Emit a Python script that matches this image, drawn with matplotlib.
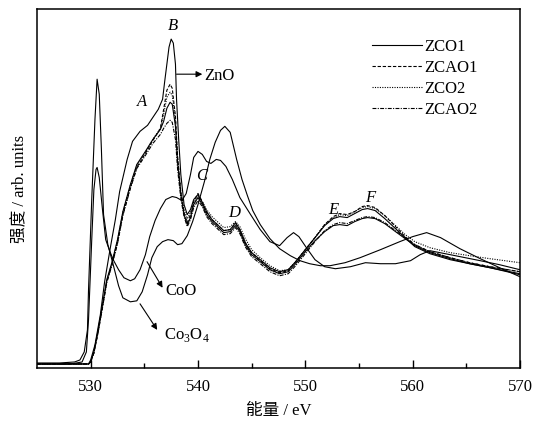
import matplotlib
matplotlib.use("Agg")
import matplotlib.pyplot as plt

plt.rcParams['font.family'] = ['Liberation Serif', 'Noto Sans CJK SC']
plt.rcParams['mathtext.fontset'] = 'custom'
plt.rcParams['mathtext.rm'] = 'Liberation Serif'

# energy grid shared by ZnO-type curves (eV)
e_samp = [525.0, 529.8, 530.0, 530.3, 530.7, 531.1, 531.5, 532.0, 532.5, 533.0,
          533.7, 534.3, 535.1, 535.8, 536.5, 536.8, 537.1, 537.4, 537.6, 537.9,
          538.1, 538.4, 538.7, 539.0, 539.3, 539.6, 540.0, 540.4, 540.8, 541.3,
          541.9, 542.4, 543.0, 543.5, 543.9, 544.4, 545.0, 545.8, 546.7, 547.6,
          548.4, 549.1, 550.0, 550.9, 551.8, 552.6, 553.2, 553.9, 554.6, 555.3,
          555.8, 556.5, 557.4, 558.4, 559.3, 560.2, 561.6, 563.5, 565.3, 567.2, 570.0]

zco1 = [0.01, 0.01, 0.03, 0.13, 0.35, 0.60, 0.85, 1.03, 1.25, 1.53,
        1.80, 2.00, 2.13, 2.25, 2.35, 2.43, 2.56, 2.62, 2.60, 2.38,
        2.02, 1.70, 1.50, 1.40, 1.47, 1.60, 1.67, 1.60, 1.50, 1.43,
        1.37, 1.32, 1.33, 1.39, 1.33, 1.20, 1.10, 1.03, 0.95, 0.91,
        0.93, 1.01, 1.13, 1.24, 1.33, 1.39, 1.40, 1.39, 1.43, 1.46,
        1.47, 1.46, 1.41, 1.33, 1.26, 1.19, 1.12, 1.06, 1.01, 0.97, 0.91]
zcao1 = [0.01, 0.01, 0.03, 0.12, 0.33, 0.58, 0.83, 1.01, 1.22, 1.50,
         1.77, 1.97, 2.11, 2.24, 2.36, 2.55, 2.74, 2.80, 2.76, 2.48,
         2.08, 1.72, 1.52, 1.42, 1.50, 1.63, 1.71, 1.63, 1.52, 1.45,
         1.39, 1.34, 1.35, 1.41, 1.35, 1.22, 1.12, 1.04, 0.96, 0.92,
         0.94, 1.03, 1.15, 1.27, 1.40, 1.48, 1.51, 1.50, 1.53, 1.58,
         1.59, 1.57, 1.49, 1.38, 1.28, 1.20, 1.13, 1.07, 1.02, 0.98, 0.93]
zco2 = [0.01, 0.01, 0.03, 0.12, 0.34, 0.59, 0.84, 1.02, 1.24, 1.52,
        1.79, 1.99, 2.12, 2.25, 2.36, 2.50, 2.67, 2.72, 2.69, 2.44,
        2.06, 1.73, 1.55, 1.46, 1.52, 1.62, 1.68, 1.63, 1.55, 1.48,
        1.42, 1.37, 1.38, 1.43, 1.38, 1.26, 1.15, 1.07, 0.99, 0.94,
        0.95, 1.03, 1.15, 1.27, 1.40, 1.47, 1.50, 1.49, 1.53, 1.57,
        1.58, 1.56, 1.49, 1.39, 1.30, 1.23, 1.17, 1.12, 1.09, 1.06, 1.02]
zcao2 = [0.01, 0.01, 0.03, 0.12, 0.33, 0.57, 0.82, 1.00, 1.21, 1.49,
         1.76, 1.96, 2.09, 2.21, 2.30, 2.36, 2.41, 2.44, 2.42, 2.25,
         1.95, 1.66, 1.48, 1.38, 1.45, 1.57, 1.64, 1.58, 1.48, 1.41,
         1.35, 1.30, 1.31, 1.37, 1.31, 1.18, 1.08, 1.01, 0.93, 0.89,
         0.91, 0.99, 1.11, 1.23, 1.34, 1.40, 1.42, 1.41, 1.44, 1.47,
         1.48, 1.47, 1.42, 1.34, 1.27, 1.20, 1.13, 1.07, 1.02, 0.98, 0.93]

# ZnO reference
e_zno = [525.0, 529.8, 530.0, 530.4, 530.9, 531.3, 531.8, 532.3, 532.7, 533.4,
         533.9, 534.6, 535.3, 535.8, 536.3, 536.7, 536.9, 537.1, 537.3, 537.5,
         537.7, 537.9, 538.0, 538.2, 538.4, 538.7, 539.0, 539.3, 539.6, 540.0,
         540.4, 540.8, 541.3, 541.9, 542.4, 543.0, 543.5, 543.9, 544.4, 545.0,
         545.8, 546.7, 547.6, 548.4, 549.1, 550.0, 550.9, 551.8, 552.6, 553.2,
         553.9, 554.6, 555.3, 555.8, 556.5, 557.4, 558.4, 559.3, 560.2, 561.6,
         563.5, 565.3, 567.2, 570.0]
zno = [0.01, 0.01, 0.05, 0.20, 0.50, 0.83, 1.15, 1.45, 1.73, 2.05,
       2.23, 2.33, 2.39, 2.47, 2.55, 2.65, 2.83, 3.00, 3.17, 3.25,
       3.21, 3.00, 2.65, 2.25, 1.90, 1.60, 1.50, 1.55, 1.65, 1.70,
       1.62, 1.53, 1.45, 1.39, 1.34, 1.35, 1.42, 1.35, 1.22, 1.12,
       1.05, 0.97, 0.93, 0.95, 1.03, 1.15, 1.27, 1.39, 1.46, 1.48,
       1.47, 1.51, 1.55, 1.56, 1.54, 1.46, 1.36, 1.27, 1.18, 1.11,
       1.05, 1.01, 0.97, 0.90]

# CoO reference
e_coo = [525.0, 528.1, 529.2, 529.6, 529.8, 530.1, 530.3, 530.5, 530.6, 530.8,
         531.1, 531.4, 531.8, 532.1, 532.6, 533.1, 533.7, 534.1, 534.6, 535.1,
         535.5, 536.0, 536.5, 537.0, 537.6, 538.0, 538.5, 538.9, 539.3, 539.6,
         540.0, 540.4, 540.8, 541.2, 541.7, 542.1, 542.6, 543.2, 543.9, 544.9,
         545.8, 546.7, 547.6, 548.3, 548.9, 549.4, 550.1, 550.9, 551.8, 552.8,
         554.2, 555.6, 557.0, 558.4, 559.8, 560.7, 561.6, 563.5, 566.3, 568.1, 570.0]
coo = [0.01, 0.01, 0.03, 0.13, 0.45, 1.25, 1.75, 1.95, 1.97, 1.87,
       1.55, 1.25, 1.13, 1.05, 0.95, 0.87, 0.84, 0.86, 0.95, 1.10,
       1.28, 1.44, 1.56, 1.65, 1.68, 1.67, 1.64, 1.71, 1.90, 2.07,
       2.13, 2.10, 2.03, 2.01, 2.05, 2.04, 1.98, 1.85, 1.67, 1.50,
       1.35, 1.23, 1.19, 1.27, 1.32, 1.28, 1.17, 1.05, 0.98, 0.96,
       0.98, 1.02, 1.01, 1.01, 1.04, 1.10, 1.14, 1.10, 1.04, 1.00, 0.95]

# Co3O4 reference
e_co3o4 = [525.0, 527.1, 528.5, 529.0, 529.4, 529.7, 529.8, 530.1, 530.4, 530.6,
           530.8, 531.0, 531.2, 531.6, 532.1, 532.6, 533.0, 533.7, 534.3, 534.8,
           535.3, 535.7, 536.2, 536.7, 537.2, 537.7, 538.1, 538.5, 539.0, 539.5,
           540.0, 540.6, 541.1, 541.6, 542.1, 542.5, 543.0, 543.6, 544.1, 544.6,
           545.1, 545.8, 546.7, 547.6, 548.6, 549.5, 550.4, 551.4, 552.3, 553.7,
           555.1, 557.0, 558.8, 560.0, 561.3, 562.6, 564.4, 566.3, 568.1, 570.0]
co3o4 = [0.02, 0.02, 0.03, 0.05, 0.13, 0.35, 0.75, 1.65, 2.45, 2.85,
         2.70, 2.15, 1.50, 1.20, 1.00, 0.79, 0.67, 0.63, 0.64, 0.73,
         0.90, 1.07, 1.18, 1.23, 1.25, 1.24, 1.20, 1.21, 1.29, 1.43,
         1.60, 1.83, 2.05, 2.22, 2.34, 2.38, 2.32, 2.05, 1.85, 1.69,
         1.54, 1.40, 1.26, 1.16, 1.09, 1.04, 1.01, 0.99, 0.99, 1.02,
         1.07, 1.15, 1.23, 1.28, 1.32, 1.27, 1.16, 1.06, 0.97, 0.88]

fig = plt.figure(figsize=(5.36, 4.26), dpi=100)
ax = fig.add_axes([37 / 536, 58 / 426, 483 / 536, 359 / 426])

lw = 0.8
ax.plot(e_zno, zno, color='k', lw=lw)
ax.plot(e_coo, coo, color='k', lw=lw)
ax.plot(e_co3o4, co3o4, color='k', lw=lw)
ax.plot(e_samp, zco1, color='k', lw=lw, label='ZCO1')
ax.plot(e_samp, zcao1, color='k', lw=lw, ls=(0, (3, 1.6)), label='ZCAO1')
ax.plot(e_samp, zco2, color='k', lw=lw, ls=(0, (1, 1.2)), label='ZCO2')
ax.plot(e_samp, zcao2, color='k', lw=lw, ls=(0, (3.5, 1.2, 1, 1.2)), label='ZCAO2')

ax.set_xlim(525, 570)
ax.set_ylim(-0.03, 3.55)
ax.set_xticks([530, 540, 550, 560, 570])
ax.set_xticks([535, 545, 555, 565], minor=True)
ax.set_yticks([])
ax.tick_params(axis='x', which='major', direction='in', length=6, width=1, labelsize=12, pad=8)
ax.tick_params(axis='x', which='minor', direction='in', length=3.5, width=1)
for s in ax.spines.values():
    s.set_linewidth(1.1)

ax.set_xlabel('能量 / eV', fontsize=12, labelpad=6)
ax.set_ylabel('强度 / arb. units', fontsize=12, labelpad=6)

leg = ax.legend(loc='upper left', bbox_to_anchor=(0.68, 0.935), frameon=False,
                fontsize=12, handlelength=3.0, handletextpad=0.15,
                labelspacing=0.3, borderaxespad=0)

# peak labels
for lab, x, y in [('A', 534.8, 2.62), ('B', 537.7, 3.38), ('C', 540.3, 1.88),
                  ('D', 543.4, 1.52), ('E', 552.6, 1.55), ('F', 556.0, 1.67)]:
    ax.text(x, y, lab, fontsize=12, style='italic', ha='center', va='center')

arr = dict(arrowstyle='-|>', lw=0.8, color='k', mutation_scale=9, shrinkA=0, shrinkB=0)
ax.annotate('', xy=(540.4, 2.90), xytext=(538.0, 2.90), arrowprops=arr)
ax.text(540.6, 2.88, 'ZnO', fontsize=12, ha='left', va='center')
ax.annotate('', xy=(536.7, 0.77), xytext=(535.25, 1.03), arrowprops=arr)
ax.text(537.0, 0.74, 'CoO', fontsize=12, ha='left', va='center')
ax.annotate('', xy=(536.2, 0.35), xytext=(534.6, 0.61), arrowprops=arr)
ax.text(536.8, 0.30, 'Co$_3$O$_4$', fontsize=12, ha='left', va='center')

fig.savefig('out.png', dpi=100)
